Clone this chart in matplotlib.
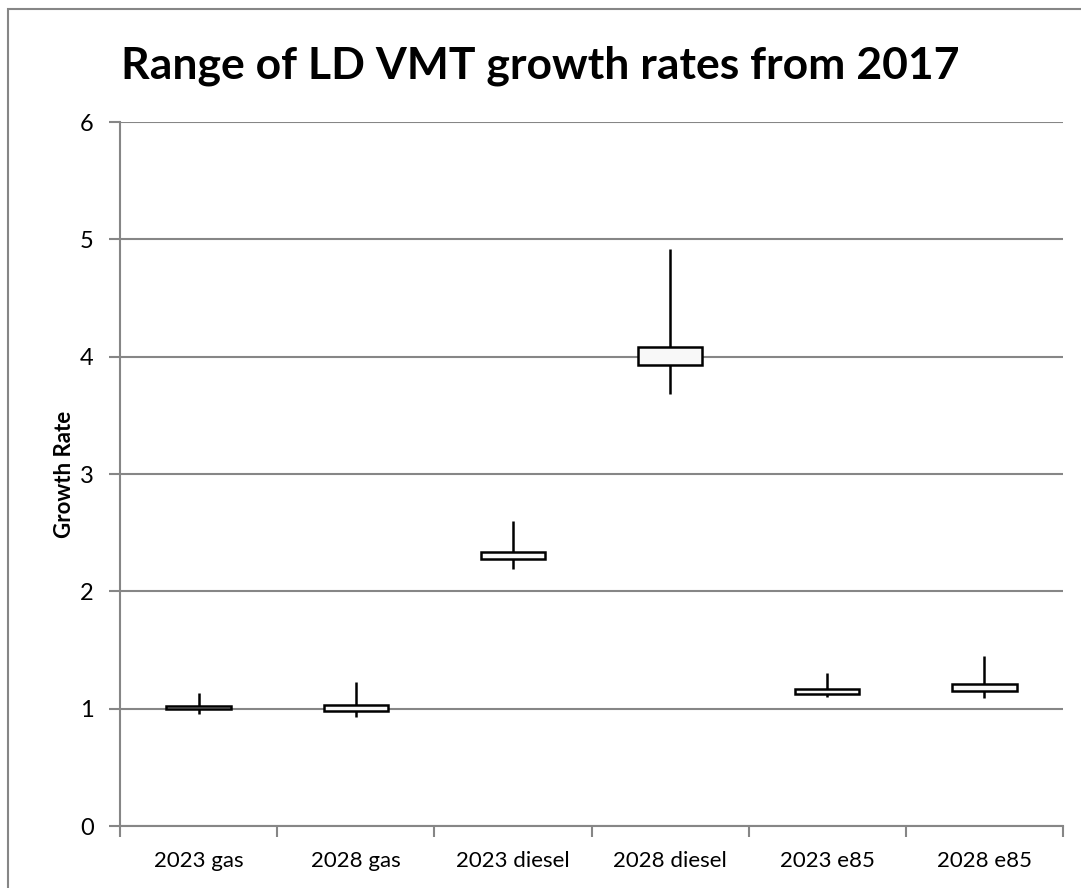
import matplotlib.pyplot as plt
from matplotlib.patches import Rectangle
import numpy as np

categories = ["2023 gas", "2028 gas", "2023 diesel", "2028 diesel", "2023 e85", "2028 e85"]
high = [1.136, 1.227, 2.60, 4.918, 1.301, 1.449]
box_top = [1.025, 1.03, 2.333, 4.085, 1.168, 1.208]
box_bottom = [0.995, 0.983, 2.276, 3.926, 1.128, 1.153]
low = [0.955, 0.926, 2.188, 3.68, 1.097, 1.088]

plt.rcParams['font.family'] = ['Lato', 'DejaVu Sans']

fig = plt.figure(figsize=(10.81, 8.88), dpi=100)
ax = fig.add_axes([120/1081, 62/888, 943/1081, 704/888])

# chart border
fig.patches.append(Rectangle((8/1081, -0.05), 1.2, 1.05 - 9/888, transform=fig.transFigure,
                             fill=False, edgecolor='#868686', linewidth=1.5))

x = np.arange(len(categories))
ax.vlines(x, low, high, color='black', linewidth=1.8, zorder=3)
ax.bar(x, np.array(box_top) - np.array(box_bottom), bottom=box_bottom, width=0.41,
       color='#f8f8f8', edgecolor='black', linewidth=1.8, zorder=4)

ax.set_xlim(-0.5, len(categories) - 0.5)
ax.set_ylim(0, 6)
ax.set_yticks(range(0, 7))
ax.yaxis.grid(True, color='#868686', linewidth=1.5)
ax.set_axisbelow(True)

ax.set_xticks(x)
ax.set_xticklabels(categories, fontsize=16)
ax.tick_params(axis='x', length=0, pad=18)
ax.set_xticks(np.arange(-0.5, len(categories)), minor=True)
ax.tick_params(axis='x', which='minor', length=8, width=1.5, color='#868686')
ax.tick_params(axis='y', labelsize=17, length=8, width=1.5, color='#868686', pad=11)

for s in ['top', 'right']:
    ax.spines[s].set_visible(False)
for s in ['left', 'bottom']:
    ax.spines[s].set_color('#868686')
    ax.spines[s].set_linewidth(1.5)

ax.set_ylabel("Growth Rate", fontsize=16, fontweight='bold')
ax.yaxis.set_label_coords(-0.048, 0.5)
fig.text(0.5, 1 - 66/888, "Range of LD VMT growth rates from 2017", ha='center', va='center',
         fontsize=32, fontweight='bold')

fig.savefig("out.png", dpi=100)
